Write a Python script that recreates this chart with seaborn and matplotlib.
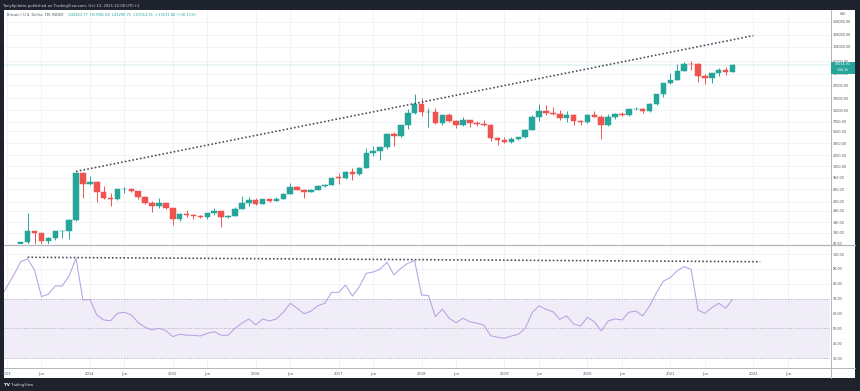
import numpy as np
import pandas as pd
import matplotlib
matplotlib.use("Agg")
import matplotlib.pyplot as plt
import seaborn as sns
from matplotlib.lines import Line2D
from matplotlib.patches import Rectangle
from matplotlib.ticker import FixedLocator, FixedFormatter, NullLocator

# ---------------- data (monthly BTC/USD index, Dec 2012 .. Oct 2021) ----------------
start_month = "2012-12"
opens = [12.6,
         13.5, 20.4, 33.4, 93.0, 139.0, 129.0, 97.5, 106.2, 138.0, 141.0, 206.0, 1129,
         764, 806, 565, 457, 447, 628, 640, 586, 478, 386, 338, 378,
         320, 217, 254, 244, 236, 230, 263, 284, 230, 236, 314, 377,
         430, 369, 437, 416, 448, 531, 673, 624, 573, 608, 700, 742,
         975, 962, 1190, 1080, 1350, 2300, 2480, 2875, 4700, 4340, 6450, 10000,
         13850, 10200, 10300, 6925, 9240, 7500, 6400, 7730, 7030, 6625, 6370, 4040,
         3740, 3460, 3830, 4100, 5320, 8570, 10820, 10080, 9630, 8300, 9150, 7550,
         7190, 9350, 8540, 6420, 8630, 9450, 9140, 11350, 11650, 10780, 13800, 19700,
         28990, 33100, 45200, 58800, 57700, 37300, 35040, 41460, 47130, 43823.77]
highs = [13.9,
         20.7, 33.9, 95.0, 266.0, 140.0, 129.5, 111.0, 140.0, 145.0, 215.0, 1163, 1163,
         1000, 850, 720, 550, 635, 680, 660, 600, 495, 418, 460, 385,
         320, 270, 300, 262, 248, 267, 318, 286, 245, 335, 500, 470,
         465, 440, 440, 470, 550, 780, 700, 625, 630, 740, 755, 980,
         1150, 1200, 1350, 1430, 2760, 3000, 2920, 4780, 4980, 6470, 11400, 19700,
         17200, 11780, 11700, 9750, 9990, 7760, 8500, 7760, 7410, 7680, 6600, 4240,
         4100, 4200, 4100, 5600, 9100, 13900, 13200, 12300, 10950, 10500, 9500, 7750,
         9580, 10500, 9180, 9450, 10070, 10400, 11440, 12480, 12080, 14100, 19900, 29300,
         41950, 58350, 61780, 64900, 59500, 41300, 42300, 50500, 52900, 57881.68]
lows = [12.2,
        13.2, 19.6, 33.0, 50.0, 79.0, 88.0, 65.0, 102.0, 110.0, 105.0, 200.0, 455,
        740, 400, 440, 340, 422, 555, 565, 440, 365, 275, 320, 305,
        172, 200, 235, 214, 225, 218, 252, 162, 225, 236, 305, 350,
        355, 365, 395, 410, 436, 525, 605, 465, 565, 605, 685, 740,
        770, 920, 890, 1060, 1350, 2080, 1830, 2700, 2980, 4110, 5500, 9500,
        9000, 6000, 6600, 6430, 7050, 5780, 6100, 5880, 6100, 6200, 3600, 3130,
        3350, 3400, 3700, 4070, 5300, 7500, 9100, 9400, 7750, 7300, 6500, 6430,
        6900, 8450, 3850, 6150, 8100, 8900, 8970, 10900, 9850, 10420, 13200, 17600,
        28200, 32300, 45000, 47000, 30000, 28800, 29300, 37300, 39600, 43296.71]
closes = [13.5,
          20.4, 33.4, 93.0, 139.0, 129.0, 97.5, 106.2, 138.0, 141.0, 206.0, 1129, 764,
          806, 565, 457, 447, 628, 640, 586, 478, 386, 338, 378, 320,
          217, 254, 244, 236, 230, 263, 284, 230, 236, 314, 377, 430,
          369, 437, 416, 448, 531, 673, 624, 573, 608, 700, 742, 963,
          962, 1190, 1080, 1350, 2300, 2480, 2875, 4700, 4340, 6450, 10000, 13850,
          10200, 10300, 6925, 9240, 7500, 6400, 7730, 7030, 6625, 6370, 4040, 3740,
          3460, 3830, 4100, 5320, 8570, 10820, 10080, 9630, 8300, 9150, 7550, 7190,
          9350, 8540, 6420, 8630, 9450, 9140, 11350, 11650, 10780, 13800, 19700, 28990,
          33100, 45200, 58800, 57700, 37300, 35040, 41460, 47130, 43800, 57014.91]
rsi = [70.0,
       78.0, 85.9, 94.8, 96.6, 89.2, 71.3, 72.9, 78.5, 78.5, 85.2, 97.1, 69.0,
       69.5, 59.0, 55.6, 55.1, 60.1, 60.8, 59.0, 53.8, 50.7, 48.9, 50.0, 48.4,
       44.4, 46.0, 45.3, 45.3, 44.8, 46.6, 47.7, 45.3, 45.3, 50.0, 53.4, 56.3,
       52.2, 56.3, 54.9, 56.3, 60.8, 66.8, 63.5, 59.8, 61.6, 65.2, 66.8, 74.2,
       74.2, 79.1, 71.7, 78.0, 87.0, 87.9, 89.9, 94.4, 85.9, 90.4, 93.7, 95.5,
       72.4, 72.0, 57.8, 62.8, 56.7, 53.8, 56.7, 54.4, 53.4, 52.2, 45.0, 43.9,
       43.3, 44.8, 46.0, 50.0, 60.5, 65.2, 62.8, 61.2, 56.0, 58.3, 52.9, 51.5,
       57.4, 54.4, 48.2, 54.9, 56.3, 55.6, 60.8, 61.6, 58.3, 65.0, 74.0, 81.8,
       84.1, 88.8, 91.5, 89.7, 62.3, 60.1, 63.9, 66.8, 63.5, 69.5]

price_trend_dates = ["2013-11", "2022-01"]
price_trend_values = [1200, 163000]
rsi_trend_dates = ["2013-04", "2022-02"]
rsi_trend_values = [97.8, 94.8]

price_ticks = [87.5, 130, 190, 290, 400, 630, 950, 1450, 2150, 3350, 5100, 7300,
               11000, 17000, 27000, 41000, 65000, 108000, 168000, 268000]
rsi_ticks = [30, 40, 50, 60, 70, 80, 90, 100]
time_tick_dates = ["2013-01", "2013-06", "2014-01", "2014-06", "2015-01", "2015-06",
                   "2016-01", "2016-06", "2017-01", "2017-06", "2018-01", "2018-06",
                   "2019-01", "2019-06", "2020-01", "2020-06", "2021-01", "2021-06",
                   "2022-01", "2022-06"]
time_tick_labels = ["2013", "Jun", "2014", "Jun", "2015", "Jun", "2016", "Jun", "2017", "Jun",
                    "2018", "Jun", "2019", "Jun", "2020", "Jun", "2021", "Jun", "2022", "Jun"]

header = "TonySpilotro published on TradingView.com, Oct 13, 2021 22:08 UTC+1"
legend_name = "Bitcoin / U.S. Dollar, 1M, INDEX"
legend_vals = "O43823.77  H57881.68  L43296.71  C57014.91  +13191.80 (+30.11%)"
countdown = "18d 1h"

# ---------------- helpers ----------------
def midx(s):
    p = pd.Period(s, freq="M")
    return (p.year - 2013) * 12 + p.month - 1

months = pd.period_range(start_month, periods=len(closes), freq="M")
x = np.array([(p.year - 2013) * 12 + p.month - 1 for p in months], dtype=float)
o = np.array(opens); h = np.array(highs); l = np.array(lows); c = np.array(closes)

W, H = 860, 391
def box(left, top, right, bottom):
    return [left / W, 1 - bottom / H, (right - left) / W, (bottom - top) / H]

UP, DOWN = "#26a69a", "#ef5350"
DARK = "#1e222d"
GRID = "#eceff5"
TXT = "#50535e"
DOTS = "#434651"

sns.set_theme(style="white")
plt.rcParams["font.family"] = ["DejaVu Sans"]

fig = plt.figure(figsize=(W / 100, H / 100), dpi=100, facecolor=DARK)
# white chart canvas (behind the axes)
fig.patches.append(Rectangle((4 / W, 1 - 378 / H), (855 - 4) / W, (378 - 10) / H,
                             transform=fig.transFigure, facecolor="white", edgecolor="none", zorder=-5))

ax_p = fig.add_axes(box(4, 10, 830, 244))
ax_r = fig.add_axes(box(4, 245, 830, 368), sharex=ax_p)
for ax in (ax_p, ax_r):
    ax.set_facecolor("white")
    for s in ax.spines.values():
        s.set_visible(False)
    ax.set_axisbelow(True)

xmin, xmax = -0.42, 119.1
ax_p.set_xlim(xmin, xmax)

# ---------------- price pane ----------------
ax_p.set_yscale("log")
ax_p.set_ylim(87.0, 411600)
colors = np.where(c >= o, UP, DOWN)
ax_p.vlines(x, l, h, colors=colors, lw=0.7, zorder=2)
ax_p.bar(x, np.abs(c - o), bottom=np.minimum(o, c), width=0.8, color=colors,
         edgecolor=colors, linewidth=0.35, zorder=3)
ax_p.axhline(c[-1], color=UP, alpha=0.12, lw=1.2, zorder=1)
ax_p.plot([midx(d) for d in price_trend_dates], price_trend_values,
          ls=(0, (1, 1.4)), color=DOTS, lw=1.15, zorder=4)

ax_p.yaxis.set_major_locator(FixedLocator(price_ticks))
ax_p.yaxis.set_major_formatter(FixedFormatter([f"{v:.2f}" for v in price_ticks]))
ax_p.yaxis.set_minor_locator(NullLocator())
ax_p.yaxis.tick_right()
ax_p.tick_params(axis="y", length=0, pad=2.2, labelsize=2.4, labelcolor=TXT)
ax_p.tick_params(axis="x", length=0, labelbottom=False)
ax_p.grid(True, color=GRID, lw=0.5)

# ---------------- RSI pane ----------------
ax_r.set_ylim(23.27, 106.06)
ax_r.axhspan(30, 70, color="#7e57c2", alpha=0.1, lw=0, zorder=0)
for lev in (30, 50, 70):
    ax_r.axhline(lev, color="#a9a6b8", lw=0.5, ls=(0, (2, 2)), zorder=1)
sns.lineplot(x=x, y=rsi, ax=ax_r, color="#b6a2e2", lw=0.75, zorder=3)
ax_r.plot([midx(d) for d in rsi_trend_dates], rsi_trend_values,
          ls=(0, (1, 1.4)), color=DOTS, lw=1.15, zorder=4)
ax_r.set_yticks(rsi_ticks)
ax_r.set_yticklabels([f"{v:.2f}" for v in rsi_ticks])
ax_r.yaxis.tick_right()
ax_r.tick_params(axis="y", length=0, pad=2.2, labelsize=2.4, labelcolor=TXT)
ax_r.set_xticks([midx(d) for d in time_tick_dates])
ax_r.set_xticklabels(time_tick_labels)
ax_r.tick_params(axis="x", length=0, pad=2.6, labelsize=2.7, labelcolor=TXT)
ax_r.grid(True, color=GRID, lw=0.5)
ax_r.set_xlabel(""); ax_r.set_ylabel("")
ax_p.set_xlim(xmin, xmax)

# ---------------- frame lines ----------------
def fline(x0, y0, x1, y1, color="#b2b5be", lw=0.7):
    fig.lines.append(Line2D([x0 / W, x1 / W], [1 - y0 / H, 1 - y1 / H],
                            transform=fig.transFigure, color=color, lw=lw, zorder=5))
fline(4, 244.5, 855, 244.5, lw=0.9)
fline(4, 368, 855, 368)
fline(830.5, 10, 830.5, 378)

# ---------------- texts ----------------
fig.text(3 / W, 1 - 5.5 / H, header, color="#d1d4dc", fontsize=2.7, va="center", ha="left")
fig.text(7 / W, 1 - 15 / H, legend_name, color="#50535e", fontsize=2.6, va="center", ha="left")
fig.text(68 / W, 1 - 15 / H, legend_vals, color=UP, fontsize=2.6, va="center", ha="left")
fig.text(843 / W, 1 - 14.3 / H, "USD", color=TXT, fontsize=2.2, va="center", ha="center")
fig.text(4 / W, 1 - 385 / H, "TV", color="white", fontsize=3.0, fontweight="bold", va="center", ha="left")
fig.text(11 / W, 1 - 385 / H, "TradingView", color="#d1d4dc", fontsize=2.7, va="center", ha="left")

# current price label, placed at the last close through the price scale
y_disp = ax_p.transData.transform((0, c[-1]))[1]
y_px = H - y_disp * H / fig.bbox.height
fig.patches.append(Rectangle((831 / W, 1 - (y_px + 9) / H), 24 / W, 12 / H,
                             transform=fig.transFigure, facecolor=UP, edgecolor="none", zorder=6))
fig.text(843 / W, 1 - (y_px - 0.5) / H, f"{c[-1]:.2f}", color="white", fontsize=2.4,
         va="center", ha="center", zorder=7)
fig.text(843 / W, 1 - (y_px + 5.5) / H, countdown, color="white", fontsize=2.3,
         va="center", ha="center", zorder=7)

fig.savefig("out.png", dpi=100, facecolor=DARK)
